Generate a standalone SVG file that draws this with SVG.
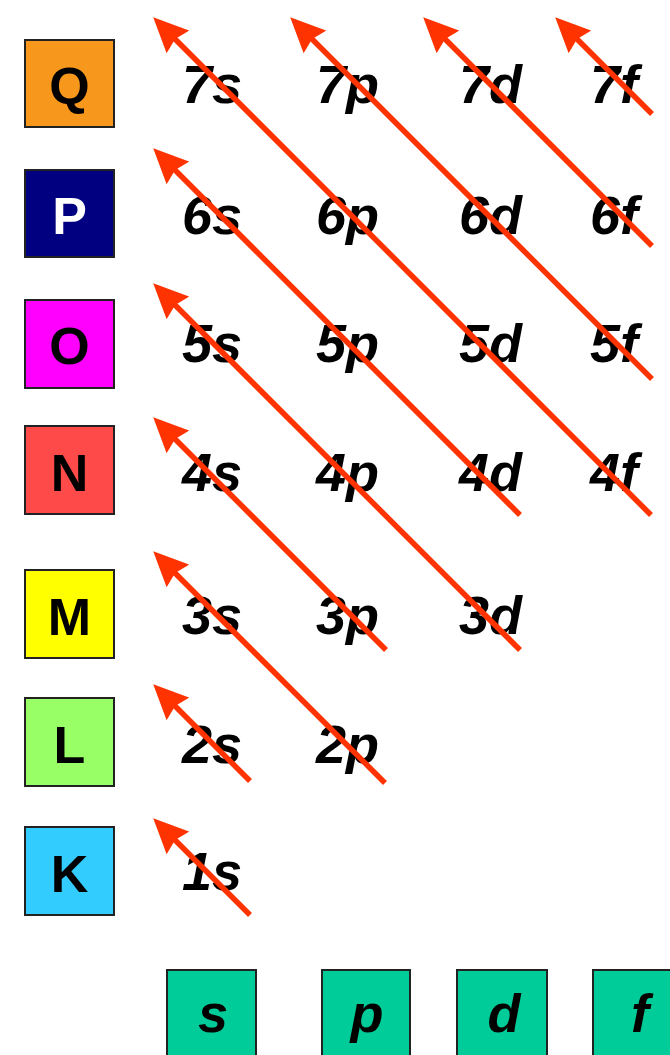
<svg xmlns="http://www.w3.org/2000/svg" width="670" height="1055" viewBox="0 0 670 1055">
<style>
.box{stroke:#222;stroke-width:2}
.bl{font-family:"Liberation Sans",Arial,sans-serif;font-weight:bold;font-size:52px;text-anchor:middle;fill:#000}
.orb{font-family:"Liberation Sans",Arial,sans-serif;font-weight:bold;font-style:italic;font-size:54px;fill:#000}
.arr{stroke:#ff3300;stroke-width:5.5;fill:none;marker-end:url(#head)}
</style>
<defs>
<marker id="head" markerUnits="userSpaceOnUse" viewBox="0 -16 35 32" refX="7" refY="0" markerWidth="35" markerHeight="32" orient="auto">
<path d="M0,-16 L35,0 L0,16 L4,0 z" fill="#ff3300"/>
</marker>
</defs>
<rect width="670" height="1055" fill="#fff"/>
<g id="shells">
<g id="Q"><rect class="box" x="25" y="40" width="89" height="87" fill="#f7981d"/><text class="bl" x="69.5" y="104">Q</text></g>
<g id="P"><rect class="box" x="25" y="170" width="89" height="87" fill="#000080"/><text class="bl" x="69.5" y="234" fill="#fff" style="fill:#fff">P</text></g>
<g id="O"><rect class="box" x="25" y="300" width="89" height="88" fill="#ff00ff"/><text class="bl" x="69.5" y="364">O</text></g>
<g id="N"><rect class="box" x="25" y="426" width="89" height="88" fill="#ff4a4a"/><text class="bl" x="69.5" y="491">N</text></g>
<g id="M"><rect class="box" x="25" y="570" width="89" height="88" fill="#ffff00"/><text class="bl" x="69.5" y="635">M</text></g>
<g id="L"><rect class="box" x="25" y="698" width="89" height="88" fill="#99ff66"/><text class="bl" x="69.5" y="763">L</text></g>
<g id="K"><rect class="box" x="25" y="827" width="89" height="88" fill="#33ccff"/><text class="bl" x="69.5" y="892">K</text></g>
</g>
<g id="subshells">
<g id="s"><rect class="box" x="167" y="970" width="89" height="100" fill="#00cc99"/><text class="orb" x="213" y="1032" text-anchor="middle">s</text></g>
<g id="p"><rect class="box" x="322" y="970" width="88" height="100" fill="#00cc99"/><text class="orb" x="367" y="1032" text-anchor="middle">p</text></g>
<g id="d"><rect class="box" x="457" y="970" width="90" height="100" fill="#00cc99"/><text class="orb" x="504" y="1032" text-anchor="middle">d</text></g>
<g id="f"><rect class="box" x="593" y="970" width="90" height="100" fill="#00cc99"/><text class="orb" x="640" y="1032" text-anchor="middle">f</text></g>
</g>
<g id="orbitals">
<text class="orb" x="182" y="103">7s</text><text class="orb" x="316" y="103">7p</text><text class="orb" x="459" y="103">7d</text><text class="orb" x="590" y="103">7f</text>
<text class="orb" x="182" y="234">6s</text><text class="orb" x="316" y="234">6p</text><text class="orb" x="459" y="234">6d</text><text class="orb" x="590" y="234">6f</text>
<text class="orb" x="182" y="362">5s</text><text class="orb" x="316" y="362">5p</text><text class="orb" x="459" y="362">5d</text><text class="orb" x="590" y="362">5f</text>
<text class="orb" x="182" y="491">4s</text><text class="orb" x="316" y="491">4p</text><text class="orb" x="459" y="491">4d</text><text class="orb" x="590" y="491">4f</text>
<text class="orb" x="182" y="634">3s</text><text class="orb" x="316" y="634">3p</text><text class="orb" x="459" y="634">3d</text>
<text class="orb" x="182" y="763">2s</text><text class="orb" x="316" y="763">2p</text>
<text class="orb" x="182" y="890">1s</text>
</g>
<g id="connectors">
<line class="arr" x1="250" y1="915" x2="173" y2="838"/>
<line class="arr" x1="250" y1="781" x2="173" y2="704"/>
<line class="arr" x1="385" y1="783" x2="173" y2="571"/>
<line class="arr" x1="386" y1="650" x2="173" y2="437"/>
<line class="arr" x1="520" y1="650" x2="173" y2="303"/>
<line class="arr" x1="520" y1="515" x2="173" y2="168"/>
<line class="arr" x1="651" y1="515" x2="173" y2="37"/>
<line class="arr" x1="652" y1="379" x2="310" y2="37"/>
<line class="arr" x1="652" y1="246" x2="443" y2="37"/>
<line class="arr" x1="652" y1="114" x2="575" y2="37"/>
</g>
</svg>
